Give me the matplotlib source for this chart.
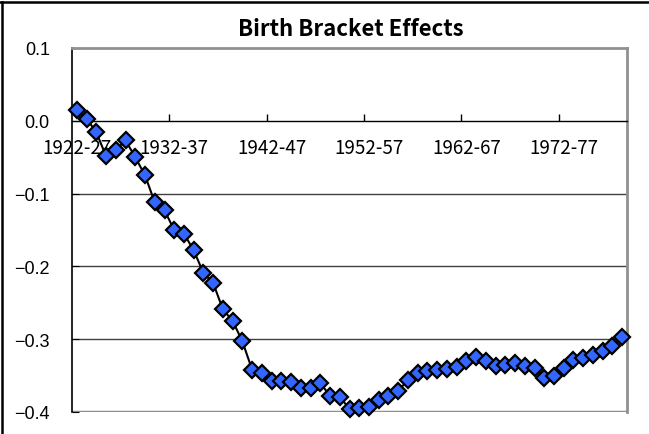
import matplotlib.pyplot as plt
import numpy as np
from matplotlib.lines import Line2D

# birth brackets 1922-27 ... 1978-83 (one per start year)
start_years = list(range(1922, 1979))
brackets = [f'{y}-{str(y + 5)[-2:]}' for y in start_years]

effects = [
    0.0145, 0.003, -0.016, -0.0485, -0.040, -0.027, -0.050, -0.075, -0.112, -0.123,
    -0.150, -0.155, -0.178, -0.209, -0.223, -0.259, -0.275, -0.303, -0.342, -0.346,
    -0.357, -0.358, -0.359, -0.367, -0.367, -0.360, -0.378, -0.379, -0.396, -0.394,
    -0.393, -0.384, -0.378, -0.371, -0.356, -0.346, -0.343, -0.342, -0.341, -0.338,
    -0.330, -0.325, -0.330, -0.337, -0.335, -0.333, -0.337, -0.339, -0.353, -0.350,
    -0.339, -0.328, -0.326, -0.322, -0.316, -0.309, -0.297,
]

tick_labels = ['1922-27', '1932-37', '1942-47', '1952-57', '1962-67', '1972-77']
y_ticks = [0.1, 0.0, -0.1, -0.2, -0.3, -0.4]

gothic = ['Noto Sans CJK JP', 'DejaVu Sans']

fig = plt.figure(figsize=(6.49, 4.35), dpi=100)
ax = fig.add_axes([72 / 649, 1 - 413 / 435, 555 / 649, 364 / 435])

x = np.arange(len(effects))
ax.plot(x, effects, color='black', lw=1.5, marker='D', ms=8.5,
        mfc='#3366ff', mec='black', mew=1.6, zorder=3, clip_on=False)

ax.set_xlim(-0.5, len(effects) - 0.5)
ax.set_ylim(-0.4, 0.1)

# gridlines
for v in [-0.1, -0.2, -0.3]:
    ax.axhline(v, color='#404040', lw=1, zorder=1)
ax.axhline(-0.4, color='#909090', lw=2.5, zorder=1)

ax.spines['bottom'].set_position(('data', 0))
ax.spines['bottom'].set_color('black')
ax.spines['bottom'].set_linewidth(1)
ax.spines['left'].set_color('black')
ax.spines['left'].set_linewidth(1.2)
for s in ['top', 'right']:
    ax.spines[s].set_color('#909090')
    ax.spines[s].set_linewidth(2)

label_pos = [brackets.index(t) for t in tick_labels]
ax.set_xticks(label_pos)
ax.set_xticklabels(tick_labels, family=gothic, fontsize=13.5)
ax.set_xticks(np.arange(9.5, len(effects), 10), minor=True)
ax.tick_params(axis='x', which='major', length=0, pad=12)
ax.tick_params(axis='x', which='minor', direction='in', length=5, width=1)

ax.set_yticks(y_ticks)
ax.set_yticklabels([f'{v:.1f}'.replace('-', '\u2212') for v in y_ticks],
                   family=['Liberation Sans', 'DejaVu Sans'], fontsize=13)
ax.tick_params(axis='y', direction='in', length=5, pad=16)

fig.text(351 / 649, 1 - 30 / 435, 'Birth Bracket Effects', ha='center', va='center',
         fontsize=16, fontweight='bold', family=gothic)

# outer chart border (cropped)
fig.add_artist(Line2D([0, 1], [1 - 3 / 435, 1 - 3 / 435], color='black', lw=1.8,
                      transform=fig.transFigure))
fig.add_artist(Line2D([2 / 649, 2 / 649], [0, 1 - 3 / 435], color='black', lw=1.8,
                      transform=fig.transFigure))

plt.savefig('out.png', dpi=100)
